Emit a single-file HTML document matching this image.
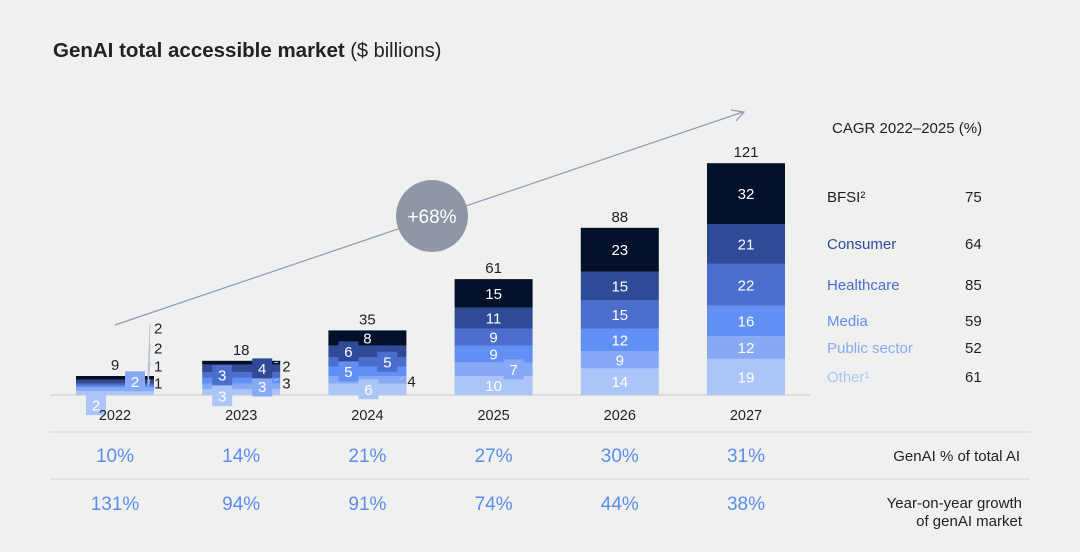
<!DOCTYPE html>
<html><head><meta charset="utf-8"><style>
body{margin:0;background:#f0f0ee;}
svg{display:block;font-family:"Liberation Sans",Arial,sans-serif;}
</style></head><body>
<svg id="c" width="1080" height="552" viewBox="0 0 1080 552">
<rect width="1080" height="552" fill="#f0f0ee"/>
<text x="53" y="57" font-size="20" fill="#222"><tspan font-weight="bold" font-size="20.5">GenAI total accessible market</tspan> ($ billions)</text>
<line x1="50" y1="395" x2="810" y2="395" stroke="#d6d6d6" stroke-width="1.5"/>
<line x1="50" y1="432" x2="1030" y2="432" stroke="#d6d6d6"/>
<line x1="50" y1="479" x2="1030" y2="479" stroke="#d6d6d6"/>
<line x1="115" y1="325" x2="743" y2="112" stroke="#8e9ab4" stroke-width="1.2"/>
<polyline points="731,110 744,112 736,121" fill="none" stroke="#8e9ab4" stroke-width="1.2"/>
<circle cx="432" cy="216" r="36" fill="#8f97a7"/>
<text x="432" y="223" font-size="19" fill="#fff" text-anchor="middle">+68%</text>
<text x="832" y="133" font-size="15" fill="#222">CAGR 2022–2025 (%)</text>
<g id="bars"></g><g id="legend"></g><g id="rows"></g>
<text x="1020" y="461" font-size="15" fill="#222" text-anchor="end">GenAI % of total AI</text>
<text x="1022" y="508" font-size="15" fill="#222" text-anchor="end">Year-on-year growth</text>
<text x="1022" y="526" font-size="15" fill="#222" text-anchor="end">of genAI market</text>
</svg>
<script>
const years=['2022','2023','2024','2025','2026','2027'];
const totals=[9,18,35,61,88,121];
const segOther=[2,3,6,10,14,19];
const segPublic=[2,3,4,7,9,12];
const segMedia=[1,3,5,9,12,16];
const segHealth=[1,3,5,9,15,22];
const segConsumer=[2,4,6,11,15,21];
const segBFSI=[2,2,8,15,23,32];
const sectors=['Other¹','Public sector','Media','Healthcare','Consumer','BFSI²'];
const cagr=[61,52,59,85,64,75];
const shareOfAI=['10%','14%','21%','27%','30%','31%'];
const yoyGrowth=['131%','94%','91%','74%','44%','38%'];
const colors=['#abc5f8','#87a9f5','#6090f4','#4b6dcc','#2f4a97','#021129'];
const legendY=[377,348,321,285,244,197];
// label placement for small segments (styling only): [dx, dy, mode] mode: 0 inside,1 box,2 outside
const place={0:[[-19,12,1],[20,-8,1],[45,0,2],[45,0,2],[45,0,2],[45,0,2]],
1:[[-19,4,1],[21,0,1],[47,0,2],[-19,0,1],[21,0,1],[47,0,2]],
2:[[1,0,1],[46,0,2],[-19,0,1],[20,0,1],[-19,0,1],[0,0,0]],
3:[[0,0,0],[20,0,1],[0,0,0],[0,0,0],[0,0,0],[0,0,0]]};
const series=[segOther,segPublic,segMedia,segHealth,segConsumer,segBFSI];
const base=395, k=1.9, x0=76, step=126.2, bw=78;
const X=i=>x0+i*step, Y=v=>base-v*k;
const NS='http://www.w3.org/2000/svg';
function mk(t,a,p){const e=document.createElementNS(NS,t);for(const q in a)e.setAttribute(q,a[q]);p.appendChild(e);return e;}
const bars=document.getElementById('bars');
years.forEach((yr,i)=>{
  let cum=0;const cx=X(i)+bw/2;
  const segs=[];
  series.forEach((s,j)=>{
    const y1=Y(cum+s[i]), y0=Y(cum);
    const r=mk('rect',{x:X(i),y:y1,width:bw,height:y0-y1,fill:colors[j]},bars);
    
    
    segs.push([y1,y0]);cum+=s[i];
  });
  const top=Y(cum);
  const tt=mk('text',{x:cx,y:top-6,'font-size':15,'text-anchor':'middle',fill:'#222'},bars);tt.textContent=totals[i];
  
  
  series.forEach((s,j)=>{
    const pl=(place[i]||[])[j]||[0,0,0];
    const mid=(segs[j][0]+segs[j][1])/2;
    let lx=cx+pl[0], ly=mid+pl[1];
    if(pl[2]===2){
      if(i===0)ly=[383,366,348,328][j-2]||ly;
      if(i===1)ly=j===2?383:366;
      if(i===2)ly=381;
      mk('line',{x1:X(i)+bw-6,y1:mid,x2:lx-10,y2:ly-4,stroke:'#b8c2d8','stroke-width':1},bars);}
    else if(pl[2]===1){
      const b=mk('rect',{x:lx-10,y:ly-10,width:20,height:20,fill:colors[j]},bars);
      
      }
    const t=mk('text',{x:lx,y:ly+5.5,'font-size':15,'text-anchor':pl[2]===2?'start':'middle',fill:pl[2]===2?'#222':'#fff'},bars);
    if(pl[2]===2)t.setAttribute('x',lx-6);
    t.textContent=s[i];
    
    
  });
  const yl=mk('text',{x:cx,y:420,'font-size':14.5,'text-anchor':'middle',fill:'#222'},bars);yl.textContent=yr;
  
  
  const r1=mk('text',{x:cx,y:462,'font-size':19,'text-anchor':'middle',fill:'#5b8ef0'},document.getElementById('rows'));r1.textContent=shareOfAI[i];
  
  
  const r2=mk('text',{x:cx,y:510,'font-size':19,'text-anchor':'middle',fill:'#5b8ef0'},document.getElementById('rows'));r2.textContent=yoyGrowth[i];
  
  
});
const lg=document.getElementById('legend');
sectors.forEach((s,j)=>{
  const n=mk('text',{x:827,y:legendY[j]+5,'font-size':15,fill:j===5?'#222':colors[j]},lg);n.textContent=s;
  
  
  const v=mk('text',{x:965,y:legendY[j]+5,'font-size':15,fill:'#222'},lg);v.textContent=cagr[j];
  
  
});
</script>
</body></html>
